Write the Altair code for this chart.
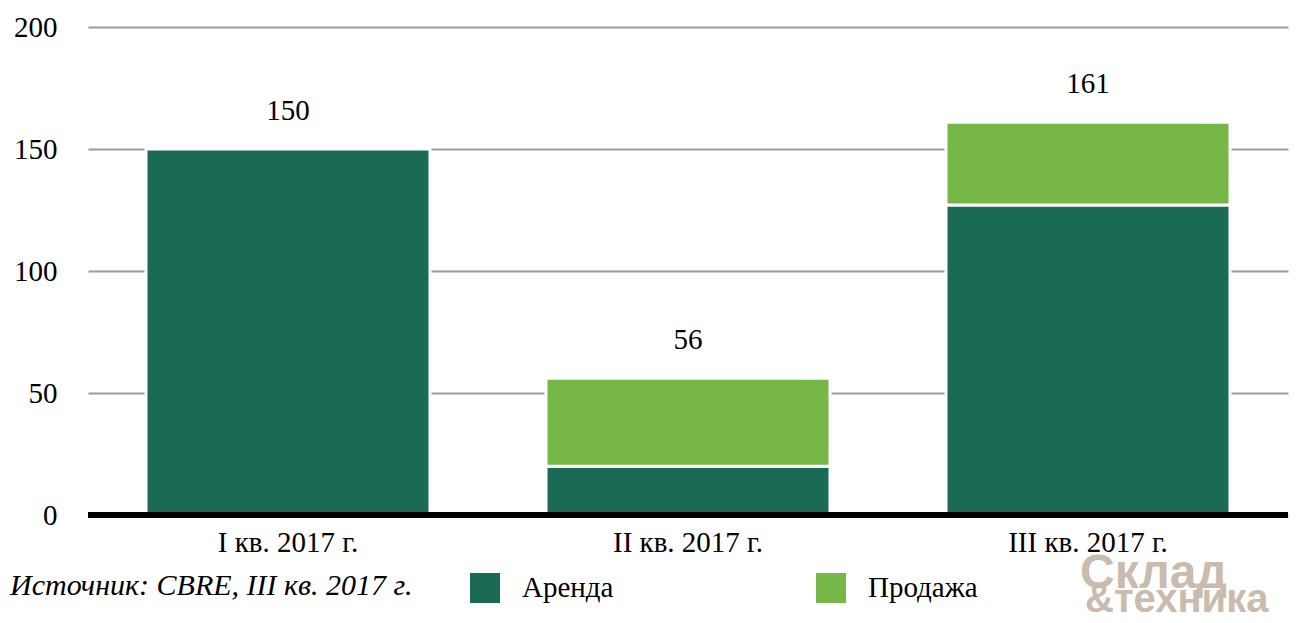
import altair as alt
import pandas as pd

quarters = ["I кв. 2017 г.", "II кв. 2017 г.", "III кв. 2017 г."]
series = ["Аренда", "Продажа"]
arenda = [150, 20, 127]
prodazha = [0, 36, 34]
totals = [150, 56, 161]
y_ticks = [0, 50, 100, 150, 200]
colors = ["#1A6A55", "#77B747"]
source_text = "Источник: CBRE, III кв. 2017 г."
logo_top = "Склад"
logo_bottom = "&техника"

SERIF = "Liberation Serif, Times New Roman, serif"
LOGO_FONT = "Liberation Sans Narrow, Arial Narrow, sans-serif"

rows = []
for q, a, p in zip(quarters, arenda, prodazha):
    rows.append({"q": q, "s": series[0], "v": a, "o": 0})
    rows.append({"q": q, "s": series[1], "v": p, "o": 1})
df = pd.DataFrame(rows)
df = df[df["v"] > 0]
tot = pd.DataFrame({"q": quarters, "t": totals})

xenc = alt.X(
    "q:N",
    sort=quarters,
    scale=alt.Scale(paddingInner=0.29, paddingOuter=0.145),
    axis=alt.Axis(title=None, labelAngle=0, domain=False, ticks=False,
                  labelFont=SERIF, labelFontSize=29, labelColor="black",
                  labelPadding=13),
)

bars = alt.Chart(df).mark_bar(stroke="white", strokeWidth=3).encode(
    x=xenc,
    y=alt.Y("v:Q", stack="zero",
            scale=alt.Scale(domain=[0, 200]),
            axis=alt.Axis(title=None, values=y_ticks, domain=False, ticks=False,
                          grid=True, gridColor="#9a9a9a", gridWidth=2,
                          labelFont=SERIF, labelFontSize=29, labelColor="black",
                          labelPadding=31)),
    color=alt.Color("s:N", scale=alt.Scale(domain=series, range=colors),
                    legend=alt.Legend(orient="none", legendX=382, legendY=546,
                                      direction="horizontal", title=None,
                                      symbolType="square", symbolSize=900,
                                      symbolStrokeWidth=0, labelFont=SERIF,
                                      labelFontSize=29, labelColor="black",
                                      labelOffset=22, columnPadding=202,
                                      padding=0)),
    order=alt.Order("o:Q", sort="ascending"),
)

base_rule = alt.Chart(pd.DataFrame({"z": [0]})).mark_rule(
    color="black", strokeWidth=6).encode(y="z:Q")

labels = alt.Chart(tot).mark_text(
    dy=-38, fontSize=29, font=SERIF, color="black", baseline="middle"
).encode(x=alt.X("q:N", sort=quarters), y="t:Q", text="t:Q")

src = alt.Chart(pd.DataFrame({"t": [source_text]})).mark_text(
    align="left", baseline="middle", font=SERIF, fontSize=30,
    fontStyle="italic", color="black"
).encode(x=alt.value(-78), y=alt.value(559), text="t:N")

logo1 = alt.Chart(pd.DataFrame({"t": [logo_top]})).mark_text(
    align="left", baseline="middle", font=LOGO_FONT,
    fontSize=48, fontWeight="bold", color="#C9BBAD"
).encode(x=alt.value(992), y=alt.value(547), text="t:N")

logo2 = alt.Chart(pd.DataFrame({"t": [logo_bottom]})).mark_text(
    align="left", baseline="middle", font=LOGO_FONT,
    fontSize=40, fontWeight="bold", color="#C9BBAD"
).encode(x=alt.value(997), y=alt.value(573), text="t:N")

chart = alt.layer(bars, base_rule, labels, src, logo1, logo2).properties(
    width=1200, height=488,
    padding={"left": 80, "top": 19, "right": 4, "bottom": 108},
    autosize="none",
).configure_view(stroke=None)

chart.save("out.html", embed_options={"renderer": "svg", "actions": False})
